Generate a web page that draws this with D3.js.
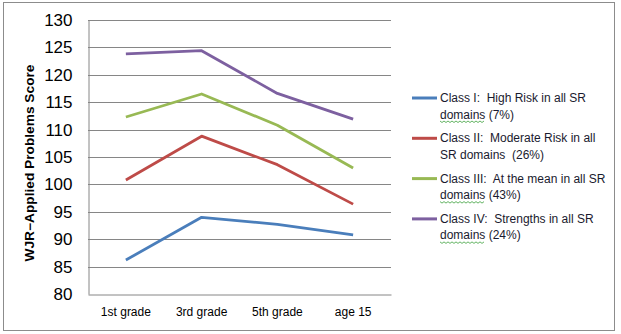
<!DOCTYPE html>
<html>
<head>
<meta charset="utf-8">
<script src="https://cdn.jsdelivr.net/npm/d3@7"></script>
<style>
  body { margin: 0; background: #fff; }
  svg { display: block; font-family: "Liberation Sans", Arial, sans-serif; }
  .legend text { white-space: pre; }
</style>
</head>
<body>
<svg id="chart" width="621" height="334"></svg>
<script>
// data
const categories = ["1st grade", "3rd grade", "5th grade", "age 15"];
const classI   = [86.2, 94.0, 92.7, 90.8];
const classII  = [100.8, 108.8, 103.6, 96.4];
const classIII = [112.3, 116.5, 110.8, 103.0];
const classIV  = [123.8, 124.4, 116.6, 111.9];
const yTicks = [80, 85, 90, 95, 100, 105, 110, 115, 120, 125, 130];

const series = [
  { lines: ["Class I:  High Risk in all SR", "domains (7%)"], values: classI, color: "#4a7ebb" },
  { lines: ["Class II:  Moderate Risk in all", "SR domains  (26%)"], values: classII, color: "#be4b48" },
  { lines: ["Class III:  At the mean in all SR", "domains (43%)"], values: classIII, color: "#98b954" },
  { lines: ["Class IV:  Strengths in all SR", "domains (24%)"], values: classIV, color: "#7d60a0" }
];

const svg = d3.select("#chart");

// outer frame
svg.append("rect")
  .attr("x", 3.5).attr("y", 2.5)
  .attr("width", 611).attr("height", 328)
  .attr("fill", "#fff").attr("stroke", "#8c8c8c");

const plot = { left: 88, right: 391, top: 20, bottom: 294 };

const x = d3.scaleBand().domain(categories).range([plot.left, plot.right]);
const y = d3.scaleLinear().domain([80, 130]).range([plot.bottom, plot.top]);

// gridlines
svg.append("g")
  .selectAll("line")
  .data(yTicks.slice(1))
  .join("line")
  .attr("x1", plot.left).attr("x2", plot.right)
  .attr("y1", d => Math.round(y(d)) + 0.5).attr("y2", d => Math.round(y(d)) + 0.5)
  .attr("stroke", "#868686");

// y axis
const yAxis = svg.append("g")
  .attr("transform", `translate(${plot.left + 0.5},0)`)
  .call(d3.axisLeft(y).tickValues(yTicks).tickSize(0).tickPadding(16));
yAxis.select(".domain").attr("stroke", "#868686");
yAxis.selectAll("text").attr("font-size", 17).attr("fill", "#000");

// x axis
const xAxis = svg.append("g")
  .attr("transform", `translate(0,${plot.bottom + 0.5})`)
  .call(d3.axisBottom(x).tickSize(0).tickPadding(13));
xAxis.select(".domain").attr("stroke", "#868686");
xAxis.selectAll("text").attr("font-size", 12).attr("fill", "#000");

// y title
svg.append("text")
  .attr("transform", "translate(34,163) rotate(-90)")
  .attr("text-anchor", "middle")
  .attr("font-size", 12)
  .attr("font-weight", "bold")
  .attr("textLength", 197)
  .attr("lengthAdjust", "spacingAndGlyphs")
  .text("WJR\u2212Applied Problems Score");

// lines
const line = d3.line()
  .x((d, i) => x(categories[i]) + x.bandwidth() / 2)
  .y(d => y(d));

svg.append("g")
  .selectAll("path")
  .data(series)
  .join("path")
  .attr("d", d => line(d.values))
  .attr("fill", "none")
  .attr("stroke", d => d.color)
  .attr("stroke-width", 2.8)
  .attr("stroke-linejoin", "round");

// legend
const legend = svg.append("g").attr("class", "legend").attr("transform", "translate(412,98)");
const item = legend.selectAll("g")
  .data(series)
  .join("g")
  .attr("transform", (d, i) => `translate(0,${i * 40.3})`);

item.append("line")
  .attr("x1", 0).attr("x2", 25)
  .attr("stroke", d => d.color)
  .attr("stroke-width", 3);

item.append("text")
  .attr("x", 28)
  .attr("y", 4)
  .attr("font-size", 12)
  .attr("fill", "#1a1a2e")
  .selectAll("tspan")
  .data(d => d.lines)
  .join("tspan")
  .attr("x", 28)
  .attr("dy", (d, i) => i === 0 ? 0 : 16.5)
  .text(d => d);

// spell-check squiggle under "domains"
item.filter((d, i) => i !== 1)
  .append("path")
  .attr("d", () => {
    let p = "M28,23";
    for (let k = 1; k <= 22; k++) p += `L${28 + k * 2},${k % 2 ? 24.5 : 23}`;
    return p;
  })
  .attr("fill", "none")
  .attr("stroke", "#3aa03a")
  .attr("stroke-width", 0.8);
</script>
</body>
</html>
